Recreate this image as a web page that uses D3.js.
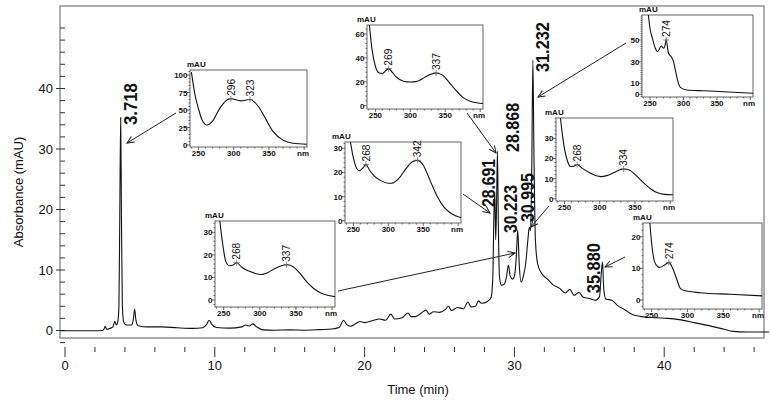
<!DOCTYPE html>
<html><head><meta charset="utf-8">
<script src="https://cdn.jsdelivr.net/npm/d3@7"></script>
<style>
body{margin:0;background:#fff}
svg{display:block}
text{font-family:"Liberation Sans",Arial,Helvetica,sans-serif;fill:#111}
</style>
</head><body>
<svg id="chart" width="771" height="402"></svg>
<script>
// ================= DATA =================
// Chromatogram trace (time in min, absorbance in mAU)
const traceTime = [-0.3,1.0,2.0,2.5,2.6,2.68,2.78,3.0,3.2,3.33,3.42,3.52,3.6,3.66,3.718,3.77,3.83,3.92,4.1,4.45,4.57,4.65,4.73,4.88,5.5,6.5,7.5,8.5,9.2,9.45,9.62,9.8,10.1,11.0,11.8,12.05,12.3,12.55,12.8,13.2,14.0,15.0,16.0,17.0,17.8,18.3,18.6,18.8,19.05,19.4,19.7,20.0,20.5,21.0,21.4,21.75,22.0,22.5,22.9,23.1,23.4,23.8,24.1,24.3,24.6,25.0,25.4,25.6,25.8,26.2,26.6,26.9,27.1,27.4,27.6,27.8,28.2,28.45,28.56,28.63,28.691,28.75,28.81,28.868,28.93,29.0,29.12,29.3,29.48,29.6,29.72,29.88,30.02,30.12,30.223,30.32,30.45,30.6,30.75,30.9,30.995,31.08,31.16,31.232,31.3,31.4,31.55,31.8,32.2,32.6,33.0,33.4,33.7,34.0,34.3,34.6,35.0,35.4,35.68,35.8,35.88,35.96,36.1,36.5,36.85,37.4,37.9,38.5,39.5,40.2,41.0,42.0,43.0,44.0,44.6,45.5,47.0];
const traceAbs  = [-0.05,-0.05,-0.05,0,0.2,0.7,0.2,0.35,0.6,1.5,0.9,1.4,4,20,35.2,18,4,1.4,0.9,0.9,2,3.5,1.8,0.8,0.6,0.6,0.45,0.35,0.45,1.0,1.7,1.0,0.5,0.4,0.6,0.9,0.75,1.1,0.6,0.1,0.05,0.1,0.05,0.15,0.25,0.5,1.7,1.0,0.7,1.1,1.5,1.3,1.6,1.9,1.7,2.7,1.9,2.1,2.9,2.3,2.3,2.9,3.4,2.7,3.1,3.0,3.5,4.0,3.3,3.8,3.6,4.7,3.9,4.0,4.9,4.5,4.8,5.5,9,19,22.9,15,21,29.6,17,9,7.5,7.6,9,10.8,9,8.5,9.2,12,16.6,11,8,9,11,15,17.1,16.5,27,44.7,30,15,11,9.5,8.5,7.5,7.0,6.2,6.8,5.8,6.3,5.5,5.3,5.0,5.6,9.5,11.3,7,5.2,5.0,4.2,3.4,2.6,2.3,2.1,2.0,1.8,1.3,0.8,0.2,-0.15,-0.25,-0.25];

const xTickLabels = [0,10,20,30,40];
const yTickLabels = [0,10,20,30,40];

const peakLabels  = ["3.718","28.691","28.868","30.223","30.995","31.232","35.880"];
const peakTimes   = [3.718,28.691,28.868,30.223,30.995,31.232,35.880];
const peakHeights = [35.2,22.9,29.6,16.6,17.1,44.7,11.3];

// UV spectra (wavelength nm, absorbance mAU), one per inset
const spec1Nm  = [240,245,250,255,262,270,280,290,296,310,323,335,345,356,370,384,404];
const spec1Abs = [104,72,52,36,28.5,34,52,64,66,63,65,55,38,19,7,2.5,1];
const spec1Peaks = [296,323];
const spec1Ticks = [0,25,50,75,100];

const spec2Nm  = [241,245,250,255,260,265,269,274,280,290,300,310,320,330,337,345,355,365,375,385,395,404];
const spec2Abs = [70,48,33,27.5,27,29.5,31,28,24,20.5,19.8,20.5,23.5,26.5,27.3,26,20,13,7,4,2.5,1.8];
const spec2Peaks = [269,337];
const spec2Ticks = [0,20,40,60];

const spec3Nm  = [245,250,255,259,264,268,273,280,290,300,305,315,325,335,342,350,360,370,380,390,404];
const spec3Abs = [34,26,21.5,20.7,22,23.3,21,18.5,16.5,15.5,15.5,17.5,21.5,24.5,25,23,16.5,10,5.5,3,1.2];
const spec3Peaks = [268,342];
const spec3Ticks = [0,10,20,30];

const spec4Nm  = [244,249,253,258,263,268,275,285,295,302,310,320,330,337,345,355,365,375,385,395,404];
const spec4Abs = [37,24,17,15.2,15.5,16.5,14.5,12.8,11.6,11.3,12,13.8,15.2,15.6,15,12,8,5,3,2,1.5];
const spec4Peaks = [268,337];
const spec4Ticks = [0,10,20,30];

const spec5Nm  = [244,249,254,259,264,268,275,285,295,302,310,320,330,334,342,352,362,372,382,392,404];
const spec5Abs = [41,27,19,16,16.3,17,15.2,13,11.4,11,11.5,13,14.5,14.8,14.3,11.5,8,5,3,2.2,2];
const spec5Peaks = [268,334];
const spec5Ticks = [0,10,20,30];

const spec6Nm  = [247,250.4,252.9,257.9,261.3,266.8,270.2,272.5,274,277.7,281.7,285.2,288,291.1,295.3,305,330,360,404];
const spec6Abs = [76,59,53,42.4,39.2,44.5,42.4,45,50,37.8,34.6,30,22,13.2,6.4,4,3.2,2.4,0.9];
const spec6Peaks = [274];
const spec6Ticks = [0,10,30,50];

const spec7Nm  = [247,250.5,255,261,267,274,280,285.5,290,297,318,360,404];
const spec7Abs = [26,17,11.6,10.3,10.9,11.9,9.7,6.3,3.7,2.9,2.3,1.8,1.3];
const spec7Peaks = [274];
const spec7Ticks = [0,10,20];

// ================= LAYOUT =================
const svg = d3.select("#chart");
const frame = {x0:60, y0:6, x1:764, y1:338};
const x = d3.scaleLinear().domain([0,46]).range([65, 754.1]);
const y = d3.scaleLinear().domain([0,50]).range([330.5, 28]);

// frame
svg.append("rect").attr("x",frame.x0).attr("y",frame.y0)
  .attr("width",frame.x1-frame.x0).attr("height",frame.y1-frame.y0)
  .attr("fill","none").attr("stroke","#777").attr("stroke-width",1.2);

// y ticks (inside, on left frame)
const yMinor = d3.range(-2, 51, 2);
svg.append("g").selectAll("line").data(yMinor).join("line")
  .attr("x1", d => yTickLabels.includes(d) ? 56 : 60).attr("x2",65)
  .attr("y1", d => y(d)).attr("y2", d => y(d))
  .attr("stroke","#333").attr("stroke-width",1);
svg.append("g").selectAll("text").data(yTickLabels).join("text")
  .attr("x",53).attr("y", d => y(d)+4.5).attr("text-anchor","end")
  .attr("font-size",13).text(d => d);

// x ticks (below frame)
const xMinor = d3.range(0, 47, 2);
svg.append("g").selectAll("line").data(xMinor).join("line")
  .attr("x1", d => x(d)).attr("x2", d => x(d))
  .attr("y1",347).attr("y2", d => xTickLabels.includes(d) ? 357 : 352)
  .attr("stroke","#333").attr("stroke-width",1);
svg.append("g").selectAll("text").data(xTickLabels).join("text")
  .attr("x", d => x(d)).attr("y",370).attr("text-anchor","middle")
  .attr("font-size",13).text(d => d);

// axis titles
svg.append("text").attr("x",418).attr("y",394).attr("text-anchor","middle")
  .attr("font-size",13).text("Time (min)");
svg.append("text").attr("transform","translate(23,192) rotate(-90)")
  .attr("text-anchor","middle").attr("font-size",13).text("Absorbance (mAU)");

// trace
const line = d3.line().x((d,i)=>x(traceTime[i])).y((d,i)=>y(traceAbs[i])).curve(d3.curveMonotoneX);
svg.append("path").attr("d", line(traceTime)).attr("fill","none")
  .attr("stroke","#111").attr("stroke-width",1.1);

// peak labels (offsets from apex)
const labelDx = [10,-6,14.6,-7,-2,10,-8.5];
const labelDy = [7.5,15,0.5,3,-5,12,31];
const labelLen = [42,48,49,48,49,50,50];
svg.append("g").selectAll("text").data(peakLabels).join("text")
  .attr("transform",(d,i)=>`translate(${x(peakTimes[i])+labelDx[i]+6.5},${y(peakHeights[i])+labelDy[i]}) rotate(-90)`)
  .attr("font-size",18).attr("font-weight","bold")
  .attr("textLength",(d,i)=>labelLen[i]).attr("lengthAdjust","spacingAndGlyphs")
  .text(d=>d);

// arrow marker
const defs = svg.append("defs");
defs.append("marker").attr("id","ah").attr("viewBox","-8 -5 10 10")
  .attr("refX",0).attr("refY",0).attr("markerWidth",10).attr("markerHeight",10)
  .attr("markerUnits","userSpaceOnUse").attr("orient","auto")
  .append("path").attr("d","M-7,-3.2 L0,0 L-7,3.2").attr("fill","none")
  .attr("stroke","#222").attr("stroke-width",1);

// arrows: tail (near inset) -> head (near peak)
const arrows = [
  [176,113,127,143],[467,113,496,153],[463,194,490,213],
  [338,291,515,253],[549,206,531,227],[626,43,538,97],[625,257,605,267]
];
svg.append("g").selectAll("line").data(arrows).join("line")
  .attr("x1",d=>d[0]).attr("y1",d=>d[1]).attr("x2",d=>d[2]).attr("y2",d=>d[3])
  .attr("stroke","#222").attr("stroke-width",1).attr("marker-end","url(#ah)");

// insets
const insets = [
  {nm:spec1Nm, ab:spec1Abs, pk:spec1Peaks, ticks:spec1Ticks, minor:5,  x0:190,x1:307,y0:70, y1:147, p0:145,  pt:75,   mx:-3},
  {nm:spec2Nm, ab:spec2Abs, pk:spec2Peaks, ticks:spec2Ticks, minor:4,  x0:367,x1:483,y0:25, y1:109, p0:105.7,pt:34,   mx:-10},
  {nm:spec3Nm, ab:spec3Abs, pk:spec3Peaks, ticks:spec3Ticks, minor:2,  x0:345,x1:461,y0:142,y1:223, p0:220.7,pt:148.3,mx:-13},
  {nm:spec4Nm, ab:spec4Abs, pk:spec4Peaks, ticks:spec4Ticks, minor:2,  x0:215,x1:335,y0:221,y1:307, p0:300,  pt:232.3,mx:-10},
  {nm:spec5Nm, ab:spec5Abs, pk:spec5Peaks, ticks:spec5Ticks, minor:2,  x0:556,x1:673,y0:118,y1:201, p0:198.8,pt:138.3,mx:-11},
  {nm:spec6Nm, ab:spec6Abs, pk:spec6Peaks, ticks:spec6Ticks, minor:2,  x0:642,x1:753,y0:15, y1:97,  p0:94.3, pt:40,   mx:-3},
  {nm:spec7Nm, ab:spec7Abs, pk:spec7Peaks, ticks:spec7Ticks, minor:2,  x0:643,x1:762,y0:223,y1:309, p0:300,  pt:236.7,mx:-10}
];

insets.forEach((L,k) => {
  const g = svg.append("g");
  const xs = d3.scaleLinear().domain([238,404]).range([L.x0,L.x1]);
  const ys = d3.scaleLinear().domain([0,L.ticks[L.ticks.length-1]]).range([L.p0,L.pt]);
  g.append("rect").attr("x",L.x0).attr("y",L.y0).attr("width",L.x1-L.x0).attr("height",L.y1-L.y0)
    .attr("fill","#fff").attr("stroke","#555").attr("stroke-width",0.9);
  defs.append("clipPath").attr("id","cl"+k).append("rect")
    .attr("x",L.x0).attr("y",L.y0).attr("width",L.x1-L.x0).attr("height",L.y1-L.y0);
  // y ticks
  const ymax = ys.invert(L.y0);
  const ymin = ys.invert(L.y1);
  const ym = d3.range(Math.ceil(ymin/L.minor)*L.minor, ymax, L.minor);
  g.selectAll("line.ym").data(ym).join("line")
    .attr("x1",d=>L.ticks.includes(d)?L.x0-3:L.x0-1.5).attr("x2",L.x0)
    .attr("y1",d=>ys(d)).attr("y2",d=>ys(d)).attr("stroke","#444").attr("stroke-width",0.8);
  g.selectAll("text.yl").data(L.ticks).join("text")
    .attr("x",L.x0-2.5).attr("y",d=>ys(d)+3).attr("text-anchor","end")
    .attr("font-size",8).attr("font-weight","bold").text(d=>d);
  // x ticks
  const xm = d3.range(240,401,10);
  g.selectAll("line.xm").data(xm).join("line")
    .attr("x1",d=>xs(d)).attr("x2",d=>xs(d))
    .attr("y1",L.y1).attr("y2",d=>d%50===0?L.y1+3:L.y1+1.5).attr("stroke","#444").attr("stroke-width",0.8);
  g.selectAll("text.xl").data([250,300,350]).join("text")
    .attr("x",d=>xs(d)).attr("y",L.y1+9).attr("text-anchor","middle")
    .attr("font-size",8).attr("font-weight","bold").text(d=>d);
  g.append("text").attr("x",L.x1-4).attr("y",L.y1+9).attr("text-anchor","middle")
    .attr("font-size",8).attr("font-weight","bold").text("nm");
  g.append("text").attr("x",L.x0+L.mx).attr("y",L.y0-3)
    .attr("font-size",8).attr("font-weight","bold").text("mAU");
  // spectrum
  const sl = d3.line().x((d,i)=>xs(L.nm[i])).y((d,i)=>ys(L.ab[i])).curve(d3.curveMonotoneX);
  g.append("path").attr("d",sl(L.nm)).attr("fill","none").attr("stroke","#111")
    .attr("stroke-width",1.1).attr("clip-path",`url(#cl${k})`);
  // peak markers + labels
  L.pk.forEach(p => {
    const v = L.ab[L.nm.indexOf(p)];
    const px = xs(p), py = ys(v);
    g.append("path").attr("d",`M${px-3},${py}H${px+3}M${px},${py-3}V${py+3}`)
      .attr("stroke","#666").attr("stroke-width",0.8);
    g.append("text").attr("transform",`translate(${px+3.8},${py-3}) rotate(-90)`)
      .attr("font-size",10.5).attr("textLength",17).attr("lengthAdjust","spacingAndGlyphs").text(p);
  });
});
</script>
</body></html>
